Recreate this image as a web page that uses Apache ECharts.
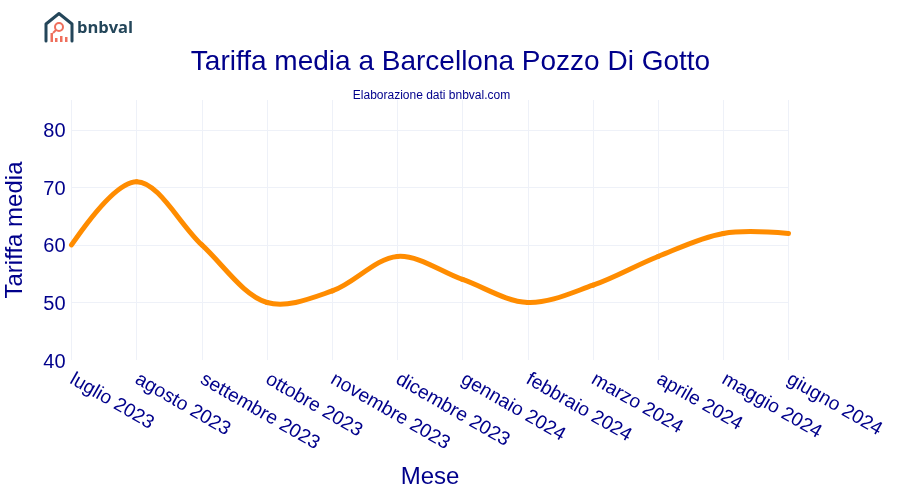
<!DOCTYPE html>
<html><head><meta charset="utf-8">
<style>html,body{margin:0;padding:0;background:#fff}#c{width:900px;height:500px}</style>
<script src="https://cdn.jsdelivr.net/npm/echarts@6/dist/echarts.min.js"></script>
</head><body><div id="c"></div>
<script>
const categories = ['luglio 2023','agosto 2023','settembre 2023','ottobre 2023','novembre 2023','dicembre 2023','gennaio 2024','febbraio 2024','marzo 2024','aprile 2024','maggio 2024','giugno 2024'];
const tariffa = [60,71,60,50,52,58,54,50,53,58,62,62];
const FONT = '"Liberation Sans", Arial, sans-serif';
const NAVY = '#00008b';
const GRID = '#eef1f8';
const ORANGE = '#ff8c00';

// Catmull-Rom tangents through the data points, in pixel space
function tangent(p, t, n) {
  const d1x = p[0]-t[0], d1y = p[1]-t[1], d2x = n[0]-t[0], d2y = n[1]-t[1];
  const a = Math.pow(d1x*d1x+d1y*d1y, .25), b = Math.pow(d2x*d2x+d2y*d2y, .25);
  const nx = b*b*d1x-a*a*d2x, ny = b*b*d1y-a*a*d2y;
  const d1 = 3*b*(a+b), d2 = 3*a*(a+b);
  return [[t[0]+nx/d1, t[1]+ny/d1],[t[0]-nx/d2, t[1]-ny/d2]];
}
function renderSegment(params, api) {
  const i = params.dataIndex, n = tariffa.length;
  if (i >= n-1) return null;
  const pts = tariffa.map((v,k)=>api.coord([k,v]));
  const tan = k => tangent(pts[k-1],pts[k],pts[k+1]);
  const shape = {x1:pts[i][0],y1:pts[i][1],x2:pts[i+1][0],y2:pts[i+1][1]};
  if (i === 0) { const c = tan(1)[0]; shape.cpx1=c[0]; shape.cpy1=c[1]; }
  else if (i === n-2) { const c = tan(n-2)[1]; shape.cpx1=c[0]; shape.cpy1=c[1]; }
  else { const c1 = tan(i)[1], c2 = tan(i+1)[0]; shape.cpx1=c1[0]; shape.cpy1=c1[1]; shape.cpx2=c2[0]; shape.cpy2=c2[1]; }
  return {type:'bezierCurve',shape,style:{fill:null,stroke:ORANGE,lineWidth:5,lineCap:'round'}};
}
const chart = echarts.init(document.getElementById('c'), null, {renderer:'canvas'});
chart.setOption({
  animation:false,
  backgroundColor:'#fff',
  title:[
    {text:'Tariffa media a Barcellona Pozzo Di Gotto',left:445.5,top:43,textAlign:'center',textStyle:{fontFamily:FONT,fontSize:28,fontWeight:'normal',color:NAVY}},
    {text:'Elaborazione dati bnbval.com',left:426.5,top:85,textAlign:'center',textStyle:{fontFamily:FONT,fontSize:12,fontWeight:'normal',color:NAVY}}
  ],
  grid:{left:71.5,right:111.5,top:100,bottom:140,outerBoundsMode:'none'},
  xAxis:{type:'category',data:categories,boundaryGap:false,
    name:'Mese',nameLocation:'middle',nameGap:105,
    nameTextStyle:{fontFamily:FONT,fontSize:24,color:NAVY},
    axisLine:{show:false},axisTick:{show:false},
    axisLabel:{interval:0,rotate:-30,margin:18,fontFamily:FONT,fontSize:19.3,color:NAVY,hideOverlap:false,showMinLabel:true,showMaxLabel:true},
    splitLine:{show:true,lineStyle:{color:GRID,width:1}}},
  yAxis:{type:'value',min:40,max:85.2,interval:10,
    name:'Tariffa media',nameLocation:'middle',nameGap:44,
    nameTextStyle:{fontFamily:FONT,fontSize:24,color:NAVY},
    axisLine:{show:false},axisTick:{show:false},
    axisLabel:{margin:6,showMaxLabel:false,formatter:'{t|{value}}',
      rich:{t:{fontFamily:FONT,fontSize:20,color:NAVY,padding:[4,0,0,0]}}},
    splitLine:{show:true,showMaxLine:false,showMinLine:false,lineStyle:{color:GRID,width:1}}},
  series:[{type:'custom',data:tariffa.map((v,i)=>[i,v]),encode:{x:0,y:1},renderItem:renderSegment,clip:false}],
  graphic:[
    {type:'polyline',shape:{points:[[46,41],[46,24],[59,13.5],[72,24],[72,41]]},style:{fill:'none',stroke:'#24465a',lineWidth:3,lineCap:'round',lineJoin:'round'}},
    {type:'circle',shape:{cx:59,cy:27,r:4},style:{fill:'none',stroke:'#ef6f5c',lineWidth:2}},
    {type:'line',shape:{x1:56,y1:30,x2:53,y2:33},style:{stroke:'#ef6f5c',lineWidth:2}},
    {type:'rect',shape:{x:50.5,y:33,width:2.5,height:9},style:{fill:'#ef6f5c'}},
    {type:'rect',shape:{x:55,y:38,width:2.5,height:4},style:{fill:'#ef6f5c'}},
    {type:'rect',shape:{x:60,y:36,width:2.5,height:6},style:{fill:'#ef6f5c'}},
    {type:'rect',shape:{x:65,y:37,width:2.5,height:5},style:{fill:'#ef6f5c'}},
    {type:'text',left:77,top:20,style:{text:'bnbval',fontFamily:'"Open Sans", sans-serif',fontSize:16.5,fontWeight:'bold',fill:'#24465a'}}
  ]
});
</script></body></html>
